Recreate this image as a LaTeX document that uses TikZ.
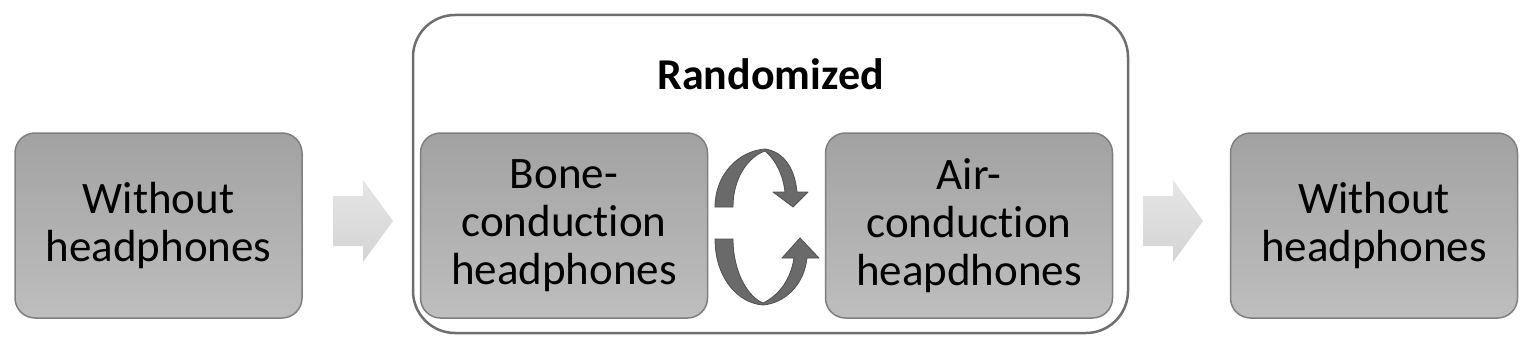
\documentclass[tikz,border=0pt]{standalone}
\usepackage{fontspec}
\setmainfont{Carlito}[Ligatures=NoCommon]
\definecolor{boxtop}{HTML}{A2A2A2}
\definecolor{boxbot}{HTML}{BEBEBE}
\definecolor{boxline}{HTML}{7F7F7F}
\definecolor{frameline}{HTML}{6E6E6E}
\definecolor{ribbon}{HTML}{6A6A6A}
\definecolor{ribbonline}{HTML}{505050}
\tikzset{
  stepbox/.style={draw=boxline, line width=1.5pt, rounded corners=20pt,
    top color=boxtop, bottom color=boxbot, minimum width=287pt,
    minimum height=185pt, inner sep=0pt, align=center,
    font=\fontsize{45pt}{48pt}\selectfont},
  frame/.style={draw=frameline, line width=2.5pt, rounded corners=42pt,
    fill=white, minimum width=715pt, minimum height=318pt, inner sep=0pt},
  flowarrow/.style={top color=black!10, bottom color=black!17, draw=none},
  swaparrow/.style={fill=ribbon, draw=ribbonline, line width=0.8pt, line join=round}
}
\begin{document}
\begin{tikzpicture}[x=1pt,y=-1pt]
\useasboundingbox (0,0) rectangle (1535,353);
\node[frame] (rand) at (770.5,174) {};
\node[font=\fontsize{44pt}{50pt}\selectfont\bfseries] (title) at (770.5,74) {Randomized};
\node[stepbox] (pre) at (158.5,225.5) {Without\\headphones};
\node[stepbox] (bone) at (564,225.5) {Bone-\\conduction\\headphones};
\node[stepbox] (air) at (969,225.5) {Air-\\conduction\\heapdhones};
\node[stepbox] (post) at (1374,225.5) {Without\\headphones};
% block arrows
\coordinate (a1) at (333,221);
\coordinate (a2) at (1143,221);
\foreach \a in {a1,a2}{
  \path[flowarrow] ([yshift=25pt]\a) -- ++(30,0) -- ++(0,-16) -- ++(30,41)
    -- ++(-30,41) -- ++(0,-16) -- ++(-30,0) -- cycle;
}
% swap arrows between the two randomized conditions
\path[swaparrow] (715,207) -- (733,207)
  .. controls (733,178) and (748,157) .. (765,151)
  .. controls (776,160) and (783,175) .. (785,192)
  -- (773,192) -- (793,207) -- (808,192) -- (797,192)
  .. controls (795,170) and (785,152) .. (765,149)
  .. controls (738,151) and (715,175) .. (715,207) -- cycle;
\path[swaparrow] (715,239) -- (733,239)
  .. controls (733,272) and (748,297) .. (763,303)
  .. controls (780,295) and (791,278) .. (794,258)
  -- (782,258) -- (800,238) -- (819,258) -- (807,258)
  .. controls (804,285) and (785,303) .. (763,305)
  .. controls (737,303) and (715,277) .. (715,239) -- cycle;
\end{tikzpicture}
\end{document}
